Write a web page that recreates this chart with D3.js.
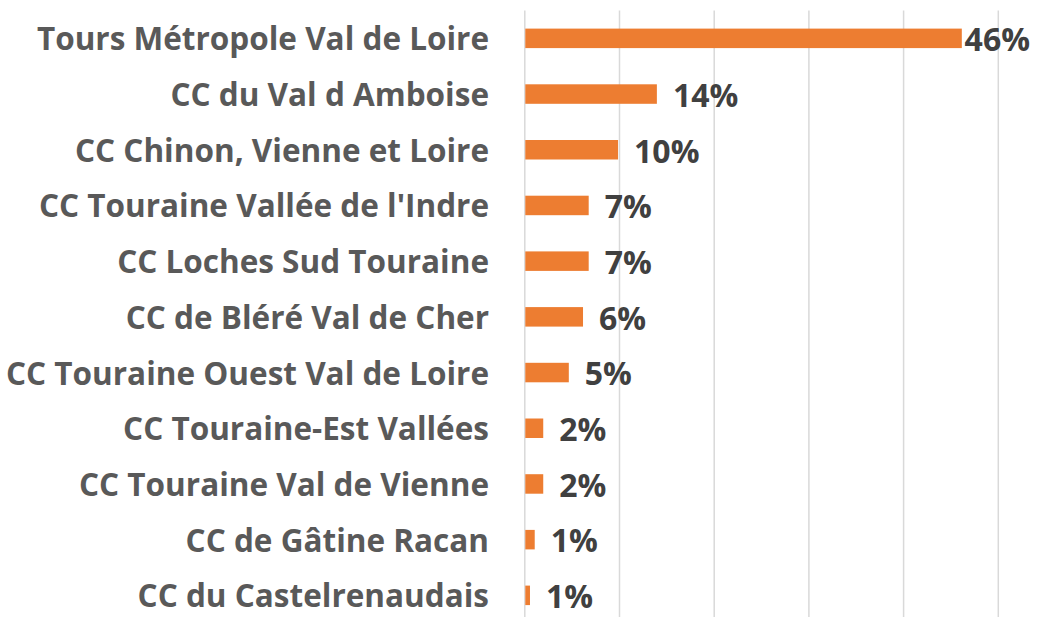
<!DOCTYPE html>
<html>
<head>
<meta charset="utf-8">
<script src="https://cdn.jsdelivr.net/npm/d3@7"></script>
<style>
  body { margin: 0; background: #fff; }
  text { font-family: "Open Sans", "DejaVu Sans", sans-serif; font-weight: bold; }
</style>
</head>
<body>
<svg id="canvas"></svg>
<script>
let categories = [
    "Tours Métropole Val de Loire",
    "CC du Val d Amboise",
    "CC Chinon, Vienne et Loire",
    "CC Touraine Vallée de l'Indre",
    "CC Loches Sud Touraine",
    "CC de Bléré Val de Cher",
    "CC Touraine Ouest Val de Loire",
    "CC Touraine-Est Vallées",
    "CC Touraine Val de Vienne",
    "CC de Gâtine Racan",
    "CC du Castelrenaudais"
]
let values = [46.2, 14.0, 9.9, 6.8, 6.8, 6.2, 4.7, 2.0, 2.0, 1.1, 0.6]
let gridTicks = [0, 10, 20, 30, 40, 50]

const width = 1037
const height = 617
const plotLeft = 524.3
const plotRight = 997.8
const plotTop = 10.5
const plotBottom = 623.2

let svg = d3.select('#canvas')
svg.attr('width', width).attr('height', height)

let xScale = d3.scaleLinear()
               .domain([0, 50])
               .range([plotLeft, plotRight])

let yScale = d3.scaleBand()
               .domain(categories)
               .range([plotTop, plotBottom])
               .paddingInner(0.65)
               .paddingOuter(0.325)

// grid lines
let xAxis = d3.axisBottom(xScale)
              .tickValues(gridTicks)
              .tickSize(-(plotBottom - plotTop))
              .tickFormat('')

let grid = svg.append('g')
    .attr('transform', 'translate(0,' + plotBottom + ')')
    .call(xAxis)
grid.select('.domain').remove()
grid.selectAll('.tick line')
    .attr('stroke', '#d9d9d9')
    .attr('stroke-width', 1.5)

// bars
svg.selectAll('rect.bar')
    .data(values)
    .enter()
    .append('rect')
    .attr('class', 'bar')
    .attr('fill', '#ed7d31')
    .attr('x', xScale(0) + 1)
    .attr('y', (d, i) => yScale(categories[i]))
    .attr('height', yScale.bandwidth())
    .attr('width', (d) => xScale(d) - xScale(0) - 1)

// category labels
let yAxis = d3.axisLeft(yScale).tickSize(0).tickPadding(0)
let yg = svg.append('g')
    .attr('transform', 'translate(489,0)')
    .call(yAxis)
yg.select('.domain').remove()
yg.selectAll('text')
    .attr('fill', '#595959')
    .style('font-size', '31.5px')
    .style('font-family', '"Open Sans", sans-serif')
    .style('font-weight', 'bold')
    .attr('dy', '0.38em')

// value labels
let labels = svg.selectAll('text.val')
    .data(values)
    .enter()
    .append('text')
    .attr('class', 'val')
    .attr('fill', '#404040')
    .style('font-size', '32px')
    .attr('y', (d, i) => yScale(categories[i]) + yScale.bandwidth() / 2)
    .attr('dy', '0.4em')
    .text((d) => Math.round(d) + '%')

labels.attr('x', function(d) {
    let w = this.getComputedTextLength()
    let x = xScale(d) + 16
    if (x + w > width - 7) x = width - 7 - w
    return x
})
</script>
</body>
</html>
